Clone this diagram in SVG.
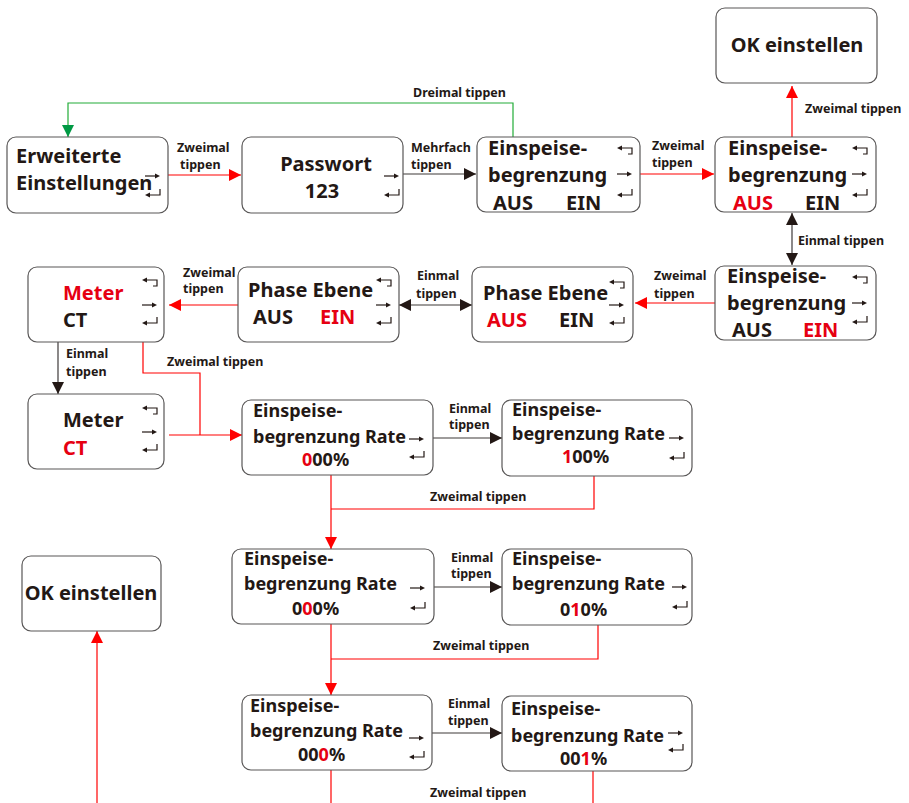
<svg xmlns="http://www.w3.org/2000/svg" width="909" height="803" viewBox="0 0 909 803">
  <style>
    .box { fill: #ffffff; stroke: #595757; stroke-width: 1.2; }
    .t { font-family: "Noto Sans", "Liberation Sans", sans-serif; font-weight: 700; fill: #231815; }
    .big { font-size: 20px; }
    .mid { font-size: 18px; }
    .lbl { font-size: 12.5px; }
    .red { fill: #e60012; }
    .ic { fill: none; stroke: #231815; stroke-width: 1.2; }
    .ich { fill: #231815; }
    .cr { fill: none; stroke: #ff0000; stroke-width: 1.2; }
    .cd { fill: none; stroke: #3e3a39; stroke-width: 1.2; }
    .cg { fill: none; stroke: #22ac38; stroke-width: 1.2; }
  </style>
  <defs>
    <marker id="ar" markerUnits="userSpaceOnUse" markerWidth="13" markerHeight="12" refX="12" refY="6" orient="auto-start-reverse">
      <path d="M0,0 L12,6 L0,12 z" fill="#ff0000"/>
    </marker>
    <marker id="ad" markerUnits="userSpaceOnUse" markerWidth="13" markerHeight="12" refX="12" refY="6" orient="auto-start-reverse">
      <path d="M0,0 L12,6 L0,12 z" fill="#231815"/>
    </marker>
    <marker id="ag" markerUnits="userSpaceOnUse" markerWidth="13" markerHeight="12" refX="12" refY="6" orient="auto-start-reverse">
      <path d="M0,0 L12,6 L0,12 z" fill="#009944"/>
    </marker>
    <!-- key icons: back, forward, enter (origin = left end of the arrow) -->
    <g id="i-back">
      <path class="ic" d="M4,0 H15 V6 H11"/>
      <path class="ich" d="M0,0 L5,-2.5 L5,2.5 z"/>
    </g>
    <g id="i-next">
      <path class="ic" d="M0,0 H11"/>
      <path class="ich" d="M15,0 L10,-2.5 L10,2.5 z"/>
    </g>
    <g id="i-enter">
      <path class="ic" d="M15,-6 V0 H4"/>
      <path class="ich" d="M0,0 L5,-2.5 L5,2.5 z"/>
    </g>
  </defs>

  <!-- connectors -->
  <g id="connectors">
    <path class="cg" d="M513,137 V103 H68 V137" marker-end="url(#ag)"/>
    <path class="cr" d="M168,175 H241" marker-end="url(#ar)"/>
    <path class="cd" d="M403,174 H476" marker-end="url(#ad)"/>
    <path class="cr" d="M640,174 H714" marker-end="url(#ar)"/>
    <path class="cr" d="M792,137 V86" marker-end="url(#ar)"/>
    <path class="cd" d="M792,213 V265" marker-start="url(#ad)" marker-end="url(#ad)"/>
    <path class="cr" d="M715,303 H635" marker-end="url(#ar)"/>
    <path class="cd" d="M399,305 H472" marker-start="url(#ad)" marker-end="url(#ad)"/>
    <path class="cr" d="M238,305 H169" marker-end="url(#ar)"/>
    <path class="cd" d="M58,342 V394" marker-end="url(#ad)"/>
    <path class="cr" d="M143,342 V373 H200 V435"/>
    <path class="cr" d="M169,435 H242" marker-end="url(#ar)"/>
    <path class="cd" d="M433,438 H502" marker-end="url(#ad)"/>
    <path class="cr" d="M594,476 V509 H331"/>
    <path class="cr" d="M331,475 V549" marker-end="url(#ar)"/>
    <path class="cd" d="M434,587 H502" marker-end="url(#ad)"/>
    <path class="cr" d="M598,625 V659 H331"/>
    <path class="cr" d="M331,624 V695" marker-end="url(#ar)"/>
    <path class="cd" d="M432,733 H502" marker-end="url(#ad)"/>
    <path class="cr" d="M331,770 V803"/>
    <path class="cr" d="M593,771 V803"/>
    <path class="cr" d="M97,803 V631" marker-end="url(#ar)"/>
  </g>

  <!-- connector labels -->
  <g id="labels" class="t lbl">
    <text x="413" y="97">Dreimal tippen</text>
    <text x="177" y="152">Zweimal</text>
    <text x="180" y="169">tippen</text>
    <text x="411" y="152">Mehrfach</text>
    <text x="411" y="169">tippen</text>
    <text x="652" y="150">Zweimal</text>
    <text x="652" y="167">tippen</text>
    <text x="805" y="113">Zweimal tippen</text>
    <text x="798" y="245">Einmal tippen</text>
    <text x="654" y="280">Zweimal</text>
    <text x="654" y="298">tippen</text>
    <text x="417" y="280">Einmal</text>
    <text x="416" y="298">tippen</text>
    <text x="183" y="277">Zweimal</text>
    <text x="183" y="293">tippen</text>
    <text x="66" y="358">Einmal</text>
    <text x="66" y="376">tippen</text>
    <text x="167" y="366">Zweimal tippen</text>
    <text x="449" y="413">Einmal</text>
    <text x="449" y="429">tippen</text>
    <text x="430" y="501">Zweimal tippen</text>
    <text x="451" y="562">Einmal</text>
    <text x="451" y="578">tippen</text>
    <text x="433" y="650">Zweimal tippen</text>
    <text x="448" y="708">Einmal</text>
    <text x="448" y="725">tippen</text>
    <text x="430" y="797">Zweimal tippen</text>
  </g>

  <!-- row 1 -->
  <g id="n-erweitert">
    <rect class="box" x="7" y="137" width="161" height="76" rx="9"/>
    <text class="t big" x="16" y="163">Erweiterte</text>
    <text class="t big" x="16" y="190">Einstellungen</text>
    <use href="#i-next" x="145" y="176"/>
    <use href="#i-enter" x="145" y="195"/>
  </g>
  <g id="n-passwort">
    <rect class="box" x="242" y="137" width="161" height="76" rx="9"/>
    <text class="t big" x="326" y="171" text-anchor="middle">Passwort</text>
    <text class="t big" x="322" y="198" text-anchor="middle">123</text>
    <use href="#i-next" x="384" y="176"/>
    <use href="#i-enter" x="384" y="195"/>
  </g>
  <g id="n-begr-1">
    <rect class="box" x="477" y="137" width="163" height="75" rx="9"/>
    <text class="t big" x="488" y="155">Einspeise-</text>
    <text class="t big" x="488" y="182">begrenzung</text>
    <text class="t big" x="493" y="210">AUS</text>
    <text class="t big" x="566" y="210">EIN</text>
    <use href="#i-back" x="617" y="148"/>
    <use href="#i-next" x="617" y="174"/>
    <use href="#i-enter" x="617" y="195"/>
  </g>
  <g id="n-begr-2">
    <rect class="box" x="715" y="137" width="161" height="75" rx="9"/>
    <text class="t big" x="728" y="155">Einspeise-</text>
    <text class="t big" x="728" y="182">begrenzung</text>
    <text class="t big red" x="733" y="210">AUS</text>
    <text class="t big" x="805" y="210">EIN</text>
    <use href="#i-back" x="852" y="148"/>
    <use href="#i-next" x="852" y="174"/>
    <use href="#i-enter" x="852" y="195"/>
  </g>
  <g id="n-ok-1">
    <rect class="box" x="716" y="8" width="161" height="75" rx="9"/>
    <text class="t big" x="797" y="52" text-anchor="middle">OK einstellen</text>
  </g>

  <!-- row 2 -->
  <g id="n-begr-3">
    <rect class="box" x="715" y="266" width="161" height="74" rx="9"/>
    <text class="t big" x="727" y="283">Einspeise-</text>
    <text class="t big" x="727" y="310">begrenzung</text>
    <text class="t big" x="732" y="337">AUS</text>
    <text class="t big red" x="803" y="337">EIN</text>
    <use href="#i-back" x="852" y="277"/>
    <use href="#i-next" x="852" y="303"/>
    <use href="#i-enter" x="852" y="322"/>
  </g>
  <g id="n-phase-2">
    <rect class="box" x="472" y="267" width="161" height="75" rx="9"/>
    <text class="t big" x="483" y="300">Phase Ebene</text>
    <text class="t big red" x="487" y="327">AUS</text>
    <text class="t big" x="559" y="327">EIN</text>
    <use href="#i-back" x="609" y="282"/>
    <use href="#i-next" x="609" y="305"/>
    <use href="#i-enter" x="609" y="323"/>
  </g>
  <g id="n-phase-1">
    <rect class="box" x="238" y="267" width="161" height="75" rx="9"/>
    <text class="t big" x="248" y="297">Phase Ebene</text>
    <text class="t big" x="253" y="324">AUS</text>
    <text class="t big red" x="320" y="324">EIN</text>
    <use href="#i-back" x="376" y="280"/>
    <use href="#i-next" x="376" y="305"/>
    <use href="#i-enter" x="376" y="323"/>
  </g>
  <g id="n-meter-1">
    <rect class="box" x="28" y="267" width="136" height="75" rx="9"/>
    <text class="t big red" x="63" y="300">Meter</text>
    <text class="t big" x="63" y="327">CT</text>
    <use href="#i-back" x="142" y="280"/>
    <use href="#i-next" x="142" y="305"/>
    <use href="#i-enter" x="142" y="323"/>
  </g>

  <!-- row 3 -->
  <g id="n-meter-2">
    <rect class="box" x="28" y="394" width="136" height="75" rx="9"/>
    <text class="t big" x="63" y="427">Meter</text>
    <text class="t big red" x="63" y="455">CT</text>
    <use href="#i-back" x="142" y="408"/>
    <use href="#i-next" x="142" y="432"/>
    <use href="#i-enter" x="142" y="450"/>
  </g>
  <g id="n-rate-000a">
    <rect class="box" x="242" y="400" width="191" height="75" rx="9"/>
    <text class="t mid" x="253" y="417">Einspeise-</text>
    <text class="t mid" x="253" y="443">begrenzung Rate</text>
    <text class="t mid" x="302" y="466"><tspan class="red">0</tspan>00%</text>
    <use href="#i-next" x="409" y="439"/>
    <use href="#i-enter" x="409" y="457"/>
  </g>
  <g id="n-rate-100">
    <rect class="box" x="502" y="400" width="190" height="76" rx="9"/>
    <text class="t mid" x="512" y="416">Einspeise-</text>
    <text class="t mid" x="512" y="440">begrenzung Rate</text>
    <text class="t mid" x="562" y="463"><tspan class="red">1</tspan>00%</text>
    <use href="#i-next" x="669" y="438"/>
    <use href="#i-enter" x="669" y="458"/>
  </g>

  <!-- row 4 -->
  <g id="n-ok-2">
    <rect class="box" x="22" y="556" width="139" height="75" rx="9"/>
    <text class="t big" x="91" y="600" text-anchor="middle">OK einstellen</text>
  </g>
  <g id="n-rate-000b">
    <rect class="box" x="232" y="549" width="202" height="75" rx="9"/>
    <text class="t mid" x="244" y="565">Einspeise-</text>
    <text class="t mid" x="244" y="590">begrenzung Rate</text>
    <text class="t mid" x="292" y="615">0<tspan class="red">0</tspan>0%</text>
    <use href="#i-next" x="410" y="588"/>
    <use href="#i-enter" x="410" y="608"/>
  </g>
  <g id="n-rate-010">
    <rect class="box" x="502" y="549" width="190" height="76" rx="9"/>
    <text class="t mid" x="512" y="565">Einspeise-</text>
    <text class="t mid" x="512" y="590">begrenzung Rate</text>
    <text class="t mid" x="560" y="616">0<tspan class="red">1</tspan>0%</text>
    <use href="#i-next" x="672" y="587"/>
    <use href="#i-enter" x="672" y="607"/>
  </g>

  <!-- row 5 -->
  <g id="n-rate-000c">
    <rect class="box" x="242" y="695" width="190" height="75" rx="9"/>
    <text class="t mid" x="250" y="712">Einspeise-</text>
    <text class="t mid" x="250" y="737">begrenzung Rate</text>
    <text class="t mid" x="298" y="761">00<tspan class="red">0</tspan>%</text>
    <use href="#i-next" x="409" y="738"/>
    <use href="#i-enter" x="409" y="757"/>
  </g>
  <g id="n-rate-001">
    <rect class="box" x="502" y="696" width="190" height="75" rx="9"/>
    <text class="t mid" x="511" y="715">Einspeise-</text>
    <text class="t mid" x="511" y="742">begrenzung Rate</text>
    <text class="t mid" x="560" y="765">00<tspan class="red">1</tspan>%</text>
    <use href="#i-next" x="668" y="733"/>
    <use href="#i-enter" x="668" y="750"/>
  </g>
</svg>
